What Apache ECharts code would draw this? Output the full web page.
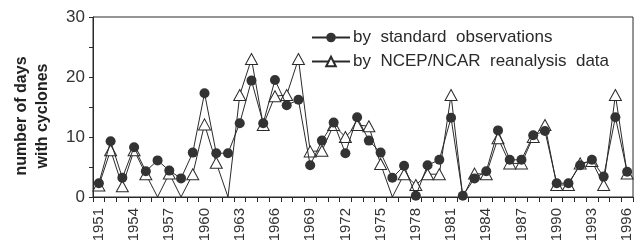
<!DOCTYPE html>
<html>
<head>
<meta charset="utf-8">
<script src="https://cdn.jsdelivr.net/npm/echarts@6/dist/echarts.min.js"></script>
<style>
  html, body { margin: 0; padding: 0; background: #fff; }
  #chart { width: 644px; height: 249px; }
</style>
</head>
<body>
<div id="chart"></div>
<script>
const years = []
for (let y = 1951; y <= 1996; y++) years.push(String(y))

const observations = [
  2.3, 9.3, 3.2, 8.3, 4.3, 6.1, 4.4, 3.1, 7.4, 17.3,
  7.3, 7.3, 12.3, 19.4, 12.3, 19.5, 15.3, 16.2, 5.3, 9.4,
  12.4, 7.3, 13.3, 9.4, 7.4, 3.2, 5.2, 0.2, 5.3, 6.2,
  13.2, 0.2, 3.1, 4.3, 11.1, 6.2, 6.2, 10.3, 11, 2.3,
  2.3, 5.3, 6.2, 3.4, 13.3, 4.2,
]

const reanalysis = [
  1.9, 7.8, 1.8, 7.8, 3.8, 0, 3.9, 0, 3.8, 12.1,
  5.7, 0, 17, 23, 12, 16.8, 17, 23, 7.6, 7.7,
  12, 10, 12, 11.8, 5.5, 0, 3.8, 2, 3.8, 3.8,
  17, 0, 3.9, 3.8, 9.8, 5.6, 5.6, 10, 12, 2,
  2, 5.6, 6, 2, 17, 3.9,
]

const yTicks = [0, 10, 20, 30]

const ink = '#2a2a2a'
const chart = echarts.init(document.getElementById('chart'))

chart.setOption({
  animation: false,
  grid: { left: 93, right: 11, top: 17, bottom: 52, show: true, borderColor: ink, borderWidth: 1 },
  legend: {
    left: 311,
    top: 29,
    padding: 0,
    orient: 'vertical',
    itemWidth: 38,
    itemHeight: 12,
    itemGap: 7,
    data: ['by  standard  observations', 'by  NCEP/NCAR  reanalysis  data'],
    textStyle: { fontFamily: 'Liberation Sans', fontSize: 17, color: ink, padding: [0, 0, 0, -2] },
  },
  xAxis: {
    type: 'category',
    data: years,
    axisLine: { lineStyle: { color: ink, width: 1 } },
    axisTick: { show: true, length: 5, interval: 0, lineStyle: { color: ink } },
    axisLabel: {
      interval: 2,
      rotate: 90,
      margin: 11,
      fontFamily: 'Liberation Sans',
      fontSize: 15,
      color: '#333',
    },
  },
  yAxis: {
    type: 'value',
    min: 0,
    max: 30,
    interval: 5,
    axisLine: { show: true, lineStyle: { color: ink, width: 1 } },
    axisTick: { show: true, length: 4, lineStyle: { color: ink } },
    splitLine: { show: false },
    axisLabel: {
      margin: 8,
      fontFamily: 'Liberation Sans',
      fontSize: 17,
      color: '#333',
      formatter: (v) => (yTicks.includes(v) ? String(v) : ''),
    },
  },
  graphic: [
    {
      type: 'text',
      x: 32,
      y: 116,
      rotation: Math.PI / 2,
      style: {
        text: 'number of days\nwith cyclones',
        fontFamily: 'Liberation Sans',
        fontSize: 16,
        fontWeight: 'bold',
        lineHeight: 21,
        fill: '#222',
        align: 'center',
        verticalAlign: 'middle',
      },
    },
  ],
  series: [
    {
      name: 'by  NCEP/NCAR  reanalysis  data',
      type: 'line',
      data: reanalysis,
      symbol: 'triangle',
      symbolSize: (v) => (v === 0 ? 0 : [12, 11]),
      showAllSymbol: true,
      z: 2,
      lineStyle: { color: ink, width: 1 },
      itemStyle: { color: '#fff', borderColor: ink, borderWidth: 1 },
    },
    {
      name: 'by  standard  observations',
      type: 'line',
      data: observations,
      symbol: 'circle',
      symbolSize: 10,
      showAllSymbol: true,
      z: 3,
      lineStyle: { color: ink, width: 1 },
      itemStyle: { color: '#333', borderColor: '#333', borderWidth: 0 },
    },
  ],
})
</script>
</body>
</html>
